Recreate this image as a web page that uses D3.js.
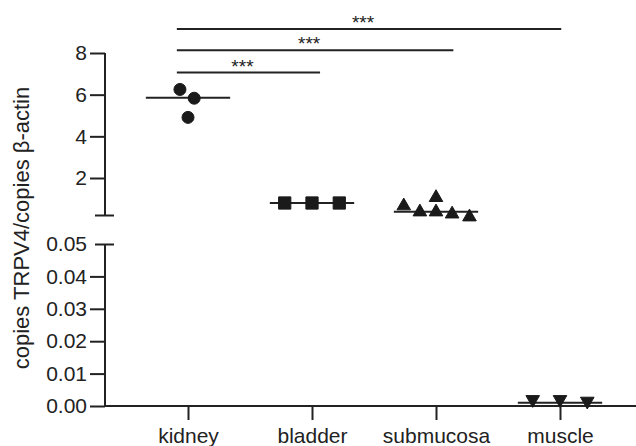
<!DOCTYPE html>
<html>
<head>
<meta charset="utf-8">
<script src="https://cdn.jsdelivr.net/npm/d3@7"></script>
<style>
  body { margin: 0; background: #fff; }
  svg text { font-family: "Liberation Sans", Arial, sans-serif; fill: #222; }
</style>
</head>
<body>
<div id="chart"></div>
<script>
// categories and values
const categories = ["kidney", "bladder", "submucosa", "muscle"];
const kidney = [6.25, 5.83, 4.91];
const bladder = [0.80, 0.80, 0.80];
const submucosa = [0.66, 0.37, 1.06, 0.37, 0.27, 0.13];
const muscle = [0.0020, 0.0020, 0.0015];
const medians = [5.85, 0.80, 0.38, 0.0010];
// horizontal spread of the points (in category units)
const kidneyJitter = [-0.065, 0.05, 0.0];
const bladderJitter = [-0.22, 0.0, 0.22];
const submucosaJitter = [-0.26, -0.13, 0.0, 0.0, 0.13, 0.27];
const muscleJitter = [-0.22, 0.0, 0.22];
const upperTicks = [2, 4, 6, 8];
const lowerTicks = [0, 0.01, 0.02, 0.03, 0.04, 0.05];
// significance bars: start, end (category units), height (upper scale)
const sigFrom = [-0.09, -0.09, -0.09];
const sigTo = [3.01, 2.14, 1.065];
const sigY = [9.15, 8.13, 7.06];
const sigLabel = ["***", "***", "***"];

const w = 636, h = 446;
const ink = "#222";

const series = [kidney, bladder, submucosa, muscle];
const jitters = [kidneyJitter, bladderJitter, submucosaJitter, muscleJitter];
const shapes = ["circle", "square", "triangle", "down"];

const svg = d3.select("#chart").append("svg")
  .attr("width", w).attr("height", h);

const x = d3.scaleLinear().domain([0, 3]).range([188, 560]);
const yUp = d3.scaleLinear().domain([2, 8]).range([178, 53]);
const yLow = d3.scaleLinear().domain([0, 0.05]).range([406, 244]);
const upBottom = 0.2;
const axisX = 105;

// upper y axis segment
const gUp = svg.append("g")
  .attr("transform", "translate(" + axisX + ",0)")
  .call(d3.axisLeft(yUp).tickValues(upperTicks).tickFormat(d3.format("d"))
    .tickSize(15).tickSizeOuter(0).tickPadding(3));
gUp.select(".domain").remove();
gUp.append("line")
  .attr("y1", yUp(8)).attr("y2", yUp(upBottom))
  .attr("stroke", ink).attr("stroke-width", 2);
gUp.append("line")
  .attr("x1", -10).attr("x2", 9)
  .attr("y1", yUp(upBottom)).attr("y2", yUp(upBottom))
  .attr("stroke", ink).attr("stroke-width", 2);

// lower y axis segment
const gLow = svg.append("g")
  .attr("transform", "translate(" + axisX + ",0)")
  .call(d3.axisLeft(yLow).tickValues(lowerTicks).tickSize(15).tickSizeOuter(0).tickPadding(3)
    .tickFormat(d3.format(".2f")));
gLow.select(".domain").remove();
gLow.append("line")
  .attr("y1", yLow(0.05)).attr("y2", yLow(0))
  .attr("stroke", ink).attr("stroke-width", 2);
gLow.selectAll(".tick").filter(d => d === 0.05).select("line")
  .attr("x1", -10).attr("x2", 9);

[gUp, gLow].forEach(g => {
  g.selectAll(".tick line").attr("stroke", ink).attr("stroke-width", 2);
  g.selectAll(".tick text").attr("font-size", 21).style("fill", ink);
});

// x axis
const xAxis = svg.append("g")
  .attr("transform", "translate(0," + yLow(0) + ")")
  .call(d3.axisBottom(x).tickValues([0, 1, 2, 3]).tickFormat(i => categories[i])
    .tickSize(14).tickSizeOuter(0).tickPadding(8));
xAxis.select(".domain").remove();
xAxis.append("line")
  .attr("x1", axisX - 1).attr("x2", w)
  .attr("stroke", ink).attr("stroke-width", 2);
xAxis.selectAll(".tick line").attr("stroke", ink).attr("stroke-width", 2);
xAxis.selectAll(".tick text").attr("font-size", 21).style("fill", ink);

// y label
svg.append("text")
  .attr("transform", "translate(29,228) rotate(-90)")
  .attr("text-anchor", "middle")
  .attr("font-size", 22)
  .text("copies TRPV4/copies \u03b2-actin");

// pick the scale for a value
function yOf(v, i) {
  return i === 3 ? yLow(v) : yUp(v);
}

// median lines
svg.selectAll(".median").data(medians).enter().append("line")
  .attr("class", "median")
  .attr("x1", (d, i) => x(i - 0.34))
  .attr("x2", (d, i) => x(i + 0.34))
  .attr("y1", (d, i) => yOf(d, i))
  .attr("y2", (d, i) => yOf(d, i))
  .attr("stroke", ink).attr("stroke-width", 2);

// points
const points = [];
series.forEach((vals, i) => vals.forEach((v, j) => points.push({ cat: i, v: v, dx: jitters[i][j] })));

const sym = {
  circle: d3.symbol().type(d3.symbolCircle).size(Math.PI * 36)(),
  square: d3.symbol().type(d3.symbolSquare).size(150)(),
  triangle: d3.symbol().type(d3.symbolTriangle).size(80)(),
  down: d3.symbol().type(d3.symbolTriangle).size(80)()
};

svg.selectAll(".pt").data(points).enter().append("path")
  .attr("class", "pt")
  .attr("d", d => sym[shapes[d.cat]])
  .attr("transform", d => "translate(" + x(d.cat + d.dx) + "," + yOf(d.v, d.cat) + ")" +
    (shapes[d.cat] === "down" ? " rotate(180)" : ""))
  .attr("fill", "#1a1a1a")
  .attr("stroke", "#1a1a1a")
  .attr("stroke-width", 1)
  .attr("stroke-linejoin", "round");

// significance bars
sigY.forEach((v, i) => {
  svg.append("line")
    .attr("x1", x(sigFrom[i])).attr("x2", x(sigTo[i]))
    .attr("y1", yUp(v)).attr("y2", yUp(v))
    .attr("stroke", ink).attr("stroke-width", 2);
  svg.append("text")
    .attr("x", (x(sigFrom[i]) + x(sigTo[i])) / 2 - 6)
    .attr("y", yUp(v))
    .attr("text-anchor", "middle")
    .attr("font-size", 19)
    .text(sigLabel[i]);
});
</script>
</body>
</html>
